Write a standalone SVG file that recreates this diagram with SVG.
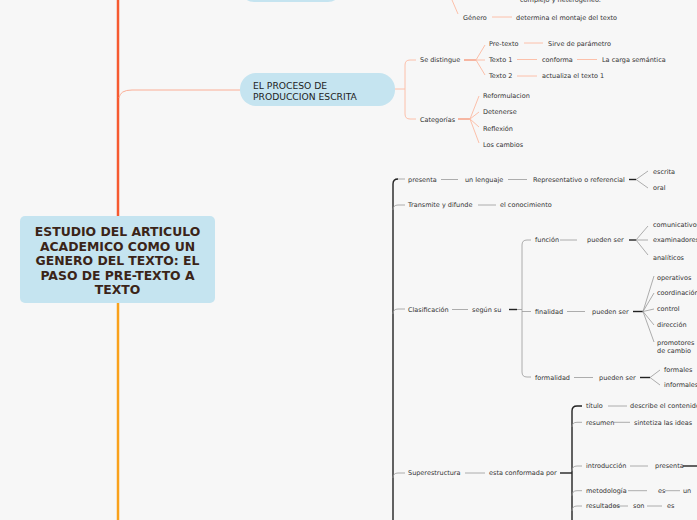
<svg xmlns="http://www.w3.org/2000/svg" width="697" height="520" viewBox="0 0 697 520">
<style>
.t{font-family:"DejaVu Sans",Verdana,sans-serif;font-size:6.5px;fill:#333}
.n{font-family:"DejaVu Sans",Verdana,sans-serif;font-size:9.2px;fill:#222}
.m{font-family:"DejaVu Sans",Verdana,sans-serif;font-size:12.4px;font-weight:bold;fill:#3b2418;text-anchor:middle}
.s{stroke:#fcc0aa;stroke-width:1;fill:none}
.sd{stroke:#f58a68;stroke-width:1.2;fill:none}
.g{stroke:#999;stroke-width:0.8;fill:none}
.k{stroke:#222;stroke-width:1.4;fill:none}
.box{fill:#c5e4f0}
</style>
<rect width="697" height="520" fill="#f7f7f7"/>
<g id="connectors">
  <path d="M118 0 V216" stroke="#f65a30" stroke-width="2.5" fill="none"/>
  <path d="M118 303 V520" stroke="#f9a11b" stroke-width="2.5" fill="none"/>
  <path d="M119 98 Q120 90 132 90 H240" stroke="#fbae96" stroke-width="1" fill="none"/>
  <path class="s" d="M452 0 L458 14"/>
  <path class="s" d="M492 17 H512"/>
  <path class="s" d="M395 89 H405"/>
  <path class="s" d="M416 60 H410 Q405 60 405 65 V114 Q405 119 410 119 H416"/>
  <path class="sd" d="M464 60 H476"/>
  <path class="s" d="M476 60 L485 45 M476 60 H485 M476 60 L485 75"/>
  <path class="s" d="M524 43 H543"/>
  <path class="s" d="M517 59.5 H537 M577 59.5 H597"/>
  <path class="s" d="M517 76 H537"/>
  <path class="sd" d="M458 119 H470"/>
  <path class="s" d="M470 119 L479 96 M470 119 L479 112 M470 119 L479 127 M470 119 L479 143"/>
  <path class="k" d="M393 520 V184 Q393 179 398 179"/>
  <path class="g" d="M398 179 H405 M393 210 Q393 205 398 205 H405 M393 314 Q393 309 398 309 H405 M393 478 Q393 473 398 473 H405"/>
  <path class="g" d="M441 179.5 H458 M508 179.5 H527"/>
  <path class="k" d="M629 179.5 H636"/>
  <path class="g" d="M636 179.5 L648 171 M636 179.5 L648 188"/>
  <path class="g" d="M478 205 H496"/>
  <path class="g" d="M452 309.5 H468"/>
  <path class="k" d="M509 309.5 H517"/>
  <path class="g" d="M517 309.5 H522 M531 240 H527 Q522 240 522 245 V372 Q522 377 527 377 H531 M522 311.5 H531"/>
  <path class="g" d="M560 240 H577"/>
  <path class="k" d="M629 240 H636"/>
  <path class="g" d="M636 240 L648 226 M636 240 H648 M636 240 L648 255"/>
  <path class="g" d="M567 311.5 H585"/>
  <path class="k" d="M633 311.5 H643"/>
  <path class="g" d="M643 311.5 L654 276 M643 311.5 L654 293 M643 311.5 L654 309 M643 311.5 L654 325 M643 311.5 L654 342"/>
  <path class="g" d="M574 377.5 H593"/>
  <path class="k" d="M640 377.5 H650"/>
  <path class="g" d="M650 377.5 L660 370 M650 377.5 L660 385"/>
  <path class="g" d="M465 473 H485"/>
  <path class="k" d="M560 473 H572"/>
  <path class="k" d="M582 406 H577 Q572 406 572 411 V520"/>
  <path class="g" d="M572 427 Q572 422.3 577 422.3 H582 M572 471 Q572 466 577 466 H582 M572 495.7 Q572 490.7 577 490.7 H582 M572 511 Q572 506 577 506 H582"/>
  <path class="g" d="M608 406 H627 M614 422.3 H630 M630 466 H648 M628 490.7 H647 M665 490.7 H680 M613 506 H628 M647 506 H662"/>
  <path class="k" d="M683 466 H697"/>
</g>
<g id="main">
  <rect class="box" x="20" y="216" width="195" height="87" rx="5"/>
  <text class="m" x="117.5" y="236">ESTUDIO DEL ARTICULO</text>
  <text class="m" x="117.5" y="250.5">ACADEMICO COMO UN</text>
  <text class="m" x="117.5" y="265">GENERO DEL TEXTO: EL</text>
  <text class="m" x="117.5" y="279.5">PASO DE PRE-TEXTO A</text>
  <text class="m" x="117.5" y="294">TEXTO</text>
</g>
<g id="top-node">
  <rect class="box" x="240" y="-30" width="102" height="32" rx="14"/>
</g>
<g id="top-leaves">
  <text class="t" x="520" y="1.8">complejo y heterogéneo.</text>
  <text class="t" x="463" y="19.7">Género</text>
  <text class="t" x="516" y="19.7">determina el montaje del texto</text>
</g>
<g id="proceso">
  <rect class="box" x="240" y="73" width="155" height="33" rx="16"/>
  <text class="n" x="253" y="88.5">EL PROCESO DE</text>
  <text class="n" x="253" y="99.8">PRODUCCION ESCRITA</text>
</g>
<g id="proceso-leaves">
  <text class="t" x="420" y="62">Se distingue</text>
  <text class="t" x="489" y="45.6">Pre-texto</text>
  <text class="t" x="548" y="45.6">Sirve de parámetro</text>
  <text class="t" x="489" y="61.8">Texto 1</text>
  <text class="t" x="542" y="61.8">conforma</text>
  <text class="t" x="602" y="61.8">La carga semántica</text>
  <text class="t" x="489" y="78.4">Texto 2</text>
  <text class="t" x="542" y="78.4">actualiza el texto 1</text>
  <text class="t" x="420" y="121.6">Categorías</text>
  <text class="t" x="483" y="97.7">Reformulacion</text>
  <text class="t" x="483" y="114">Detenerse</text>
  <text class="t" x="483" y="130.6">Reflexión</text>
  <text class="t" x="483" y="146.6">Los cambios</text>
</g>
<g id="presenta">
  <text class="t" x="408" y="181.8">presenta</text>
  <text class="t" x="465" y="181.8">un lenguaje</text>
  <text class="t" x="533" y="181.8">Representativo o referencial</text>
  <text class="t" x="653" y="174">escrita</text>
  <text class="t" x="653" y="190">oral</text>
</g>
<g id="transmite">
  <text class="t" x="408" y="207.4">Transmite y difunde</text>
  <text class="t" x="500" y="207.4">el conocimiento</text>
</g>
<g id="clasificacion">
  <text class="t" x="408" y="311.7">Clasificación</text>
  <text class="t" x="472" y="311.7">según su</text>
  <text class="t" x="535" y="242.4">función</text>
  <text class="t" x="587" y="242.4">pueden ser</text>
  <text class="t" x="653" y="226.7">comunicativos</text>
  <text class="t" x="653" y="242.4">examinadores</text>
  <text class="t" x="653" y="259.7">analíticos</text>
  <text class="t" x="535" y="314">finalidad</text>
  <text class="t" x="592" y="314">pueden ser</text>
  <text class="t" x="657" y="279.7">operativos</text>
  <text class="t" x="657" y="295.1">coordinación</text>
  <text class="t" x="657" y="311.4">control</text>
  <text class="t" x="657" y="327.4">dirección</text>
  <text class="t" x="657" y="345">promotores</text>
  <text class="t" x="657" y="353">de cambio</text>
  <text class="t" x="535" y="379.7">formalidad</text>
  <text class="t" x="599" y="379.7">pueden ser</text>
  <text class="t" x="664" y="371.7">formales</text>
  <text class="t" x="664" y="387.4">informales</text>
</g>
<g id="superestructura">
  <text class="t" x="408" y="475.1">Superestructura</text>
  <text class="t" x="489" y="475.1">esta conformada por</text>
  <text class="t" x="586" y="408.1">título</text>
  <text class="t" x="630" y="408.1">describe el contenido</text>
  <text class="t" x="586" y="424.7">resumen</text>
  <text class="t" x="634" y="424.7">sintetiza las ideas</text>
  <text class="t" x="586" y="468.4">introducción</text>
  <text class="t" x="655" y="468.4">presenta</text>
  <text class="t" x="586" y="493.1">metodología</text>
  <text class="t" x="658" y="493.1">es</text>
  <text class="t" x="683" y="493.1">un</text>
  <text class="t" x="586" y="508.4">resultados</text>
  <text class="t" x="633" y="508.4">son</text>
  <text class="t" x="667" y="508.4">es</text>
</g>
</svg>
